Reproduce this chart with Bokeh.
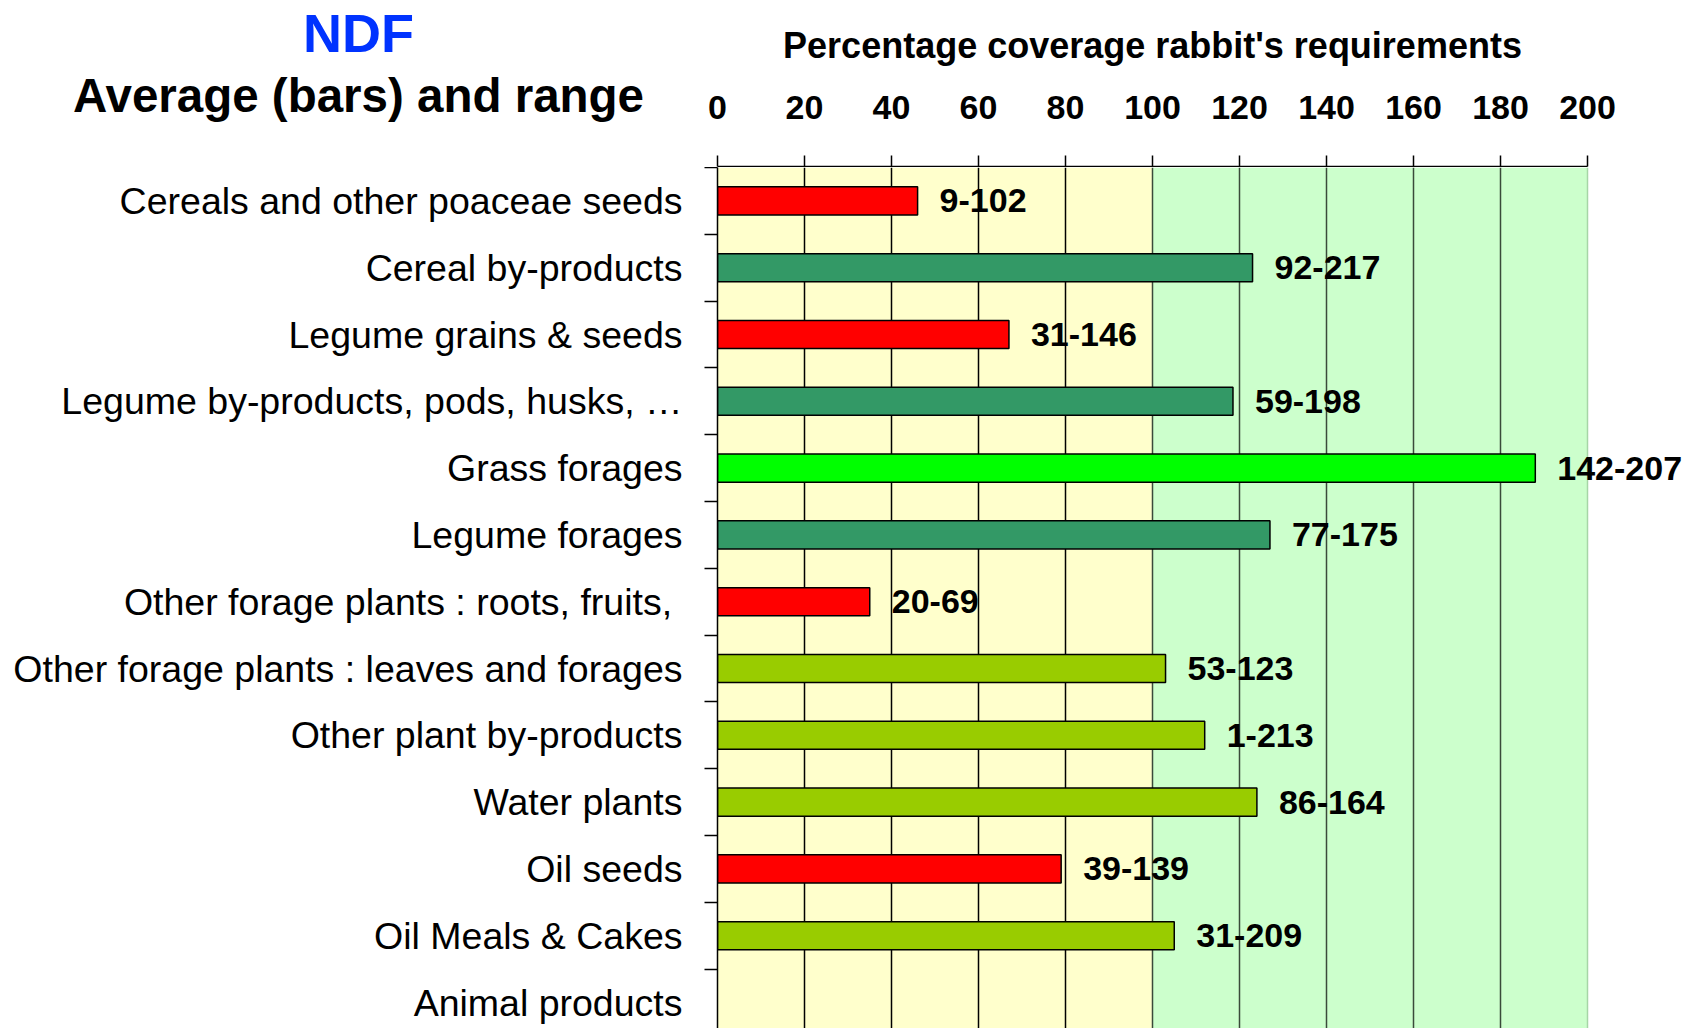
from bokeh.plotting import figure
from bokeh.layouts import column, row
from bokeh.models import FixedTicker, Grid, BoxAnnotation, ColumnDataSource, Range1d
from bokeh.core.properties import value
from bokeh.embed import file_html
from bokeh.resources import INLINE

# ---------------- data ----------------
categories = [
    "Cereals and other poaceae seeds",
    "Cereal by-products",
    "Legume grains & seeds",
    "Legume by-products, pods, husks, \u2026",
    "Grass forages",
    "Legume forages",
    "Other forage plants : roots, fruits, ",
    "Other forage plants : leaves and forages",
    "Other plant by-products",
    "Water plants",
    "Oil seeds",
    "Oil Meals & Cakes",
    "Animal products",
]
averages = [46, 123, 67, 118.5, 188, 127, 35, 103, 112, 124, 79, 105, float("nan")]
ranges = ["9-102", "92-217", "31-146", "59-198", "142-207", "77-175", "20-69",
          "53-123", "1-213", "86-164", "39-139", "31-209", ""]
bar_colors = ["#FF0000", "#339966", "#FF0000", "#339966", "#00FF00", "#339966",
              "#FF0000", "#99CC00", "#99CC00", "#99CC00", "#FF0000", "#99CC00", "#99CC00"]
x_ticks = [0, 20, 40, 60, 80, 100, 120, 140, 160, 180, 200]
deficit_zone = (0, 100)
cover_zone = (100, 200)
title_main = "NDF"
title_sub = "Average (bars) and range"
x_title = "Percentage coverage rabbit's requirements"

FONT = "Liberation Sans"
n = len(categories)
ypos = [n - 1 - i for i in range(n)]          # first category on top
boundaries = [y + 0.5 for y in range(-1, n)]
top = n - 0.5

W, H = 1686, 1028
LEFT = 717          # left border (category labels)
HEAD = 167          # header height (titles and top axis)
PAD = 24            # room left of the top axis for the "0" label
BAND = 66.8         # px per category
PX_PER_UNIT = 4.35  # px per x unit

# ---------------- header left: titles ----------------
hl_w = LEFT - PAD
hl = figure(width=hl_w, height=HEAD, output_backend="svg", toolbar_location=None,
            x_range=Range1d(0, hl_w), y_range=Range1d(HEAD, 0),
            x_axis_location=None, y_axis_location=None, frame_align=False,
            min_border_left=0, min_border_right=0, min_border_top=0, min_border_bottom=0)
hl.outline_line_color = None
hl.grid.visible = False
hl.text(x=[358], y=[32], text=[title_main], text_align="center", text_baseline="middle",
        text_font=value(FONT), text_font_style="bold", text_font_size="54px",
        text_color="#0033FF")
hl.text(x=[358], y=[94.6], text=[title_sub], text_align="center", text_baseline="middle",
        text_font=value(FONT), text_font_style="bold", text_font_size="47.5px",
        text_color="black")

# ---------------- header right: top axis ----------------
axis_w = round((x_ticks[-1] - x_ticks[0]) * PX_PER_UNIT)
hr_w = W - hl_w
hr = figure(width=hr_w, height=HEAD, output_backend="svg", toolbar_location=None,
            x_range=Range1d(x_ticks[0], x_ticks[-1]), y_range=Range1d(0, 1),
            x_axis_location="above", y_axis_location=None, frame_align=False,
            min_border_left=PAD, min_border_right=hr_w - PAD - axis_w,
            min_border_top=HEAD - 1, min_border_bottom=0)
hr.outline_line_color = None
hr.grid.visible = False
xa = hr.xaxis[0]
xa.ticker = FixedTicker(ticks=x_ticks)
xa.major_tick_out = 11
xa.major_tick_in = 0
xa.minor_tick_out = 0
xa.minor_tick_in = 0
xa.major_tick_line_width = 1.5
xa.axis_line_width = 1.5
xa.major_label_text_font = FONT
xa.major_label_text_font_style = "bold"
xa.major_label_text_font_size = "34px"
xa.major_label_text_color = "black"
xa.major_label_standoff = 37
xa.axis_label = x_title
xa.axis_label_text_font = FONT
xa.axis_label_text_font_style = "bold"
xa.axis_label_text_font_size = "36px"
xa.axis_label_text_color = "black"
xa.axis_label_standoff = 27

# ---------------- main chart ----------------
src = ColumnDataSource(dict(y=ypos, avg=averages, rng=ranges, color=bar_colors))
main_h = H - HEAD
p = figure(width=W, height=main_h, output_backend="svg", toolbar_location=None,
           x_axis_location=None, frame_align=False,
           x_range=Range1d(0, (W - LEFT) / PX_PER_UNIT),
           y_range=Range1d(top - main_h / BAND, top),
           min_border_left=LEFT, min_border_right=0, min_border_top=0, min_border_bottom=0)
p.outline_line_color = None
p.background_fill_color = "white"
p.xgrid.visible = False
p.ygrid.visible = False

# background zones
p.add_layout(BoxAnnotation(left=deficit_zone[0], right=deficit_zone[1], fill_color="#FFFFCC",
                           fill_alpha=1, line_color=None, level="image"))
p.add_layout(BoxAnnotation(left=cover_zone[0], right=cover_zone[1], fill_color="#CCFFCC",
                           fill_alpha=1, line_color=None, level="image"))

# vertical grid lines
p.add_layout(Grid(dimension=0, ticker=FixedTicker(ticks=[t for t in x_ticks if 0 < t < 100]),
                  grid_line_color="black", grid_line_width=1.5))
p.add_layout(Grid(dimension=0, ticker=FixedTicker(ticks=[t for t in x_ticks if 100 <= t < 200]),
                  grid_line_color="#3a4a3a", grid_line_width=1.5))
p.add_layout(Grid(dimension=0, ticker=FixedTicker(ticks=[200]),
                  grid_line_color="#a6d6a6", grid_line_width=1.5))

# bars
p.hbar(y="y", left=0, right="avg", height=0.42, source=src,
       fill_color="color", line_color="black", line_width=1.5)

# range labels
p.text(x="avg", y="y", text="rng", source=src, x_offset=22,
       text_baseline="middle", text_align="left",
       text_font=value(FONT), text_font_style="bold", text_font_size="34px",
       text_color="black")

# left axis
ya = p.yaxis[0]
ya.ticker = FixedTicker(ticks=ypos, minor_ticks=boundaries)
ya.major_label_overrides = {y: c for y, c in zip(ypos, categories)}
ya.major_tick_out = 0
ya.major_tick_in = 0
ya.minor_tick_out = 13
ya.minor_tick_in = 0
ya.minor_tick_line_width = 1.5
ya.minor_tick_line_color = "black"
ya.axis_line_width = 1.5
ya.major_label_text_font = FONT
ya.major_label_text_font_size = "37.5px"
ya.major_label_text_color = "black"
ya.major_label_standoff = 22

layout = column(row(hl, hr, spacing=0), p, spacing=0)
open("out.html", "w").write(file_html(layout, INLINE))
